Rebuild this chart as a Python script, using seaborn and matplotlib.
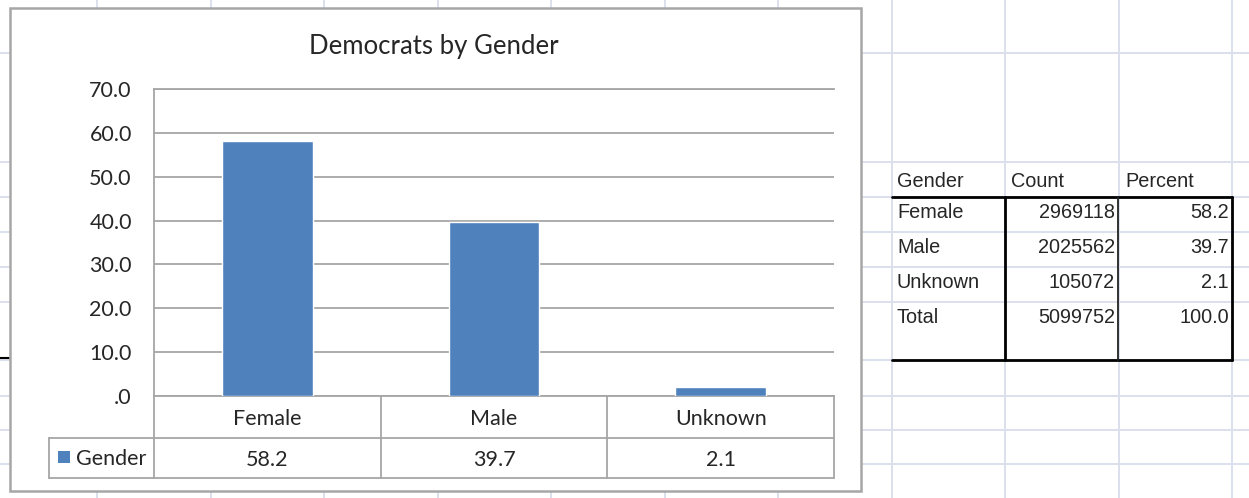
import matplotlib
matplotlib.use('Agg')
import matplotlib.pyplot as plt
import matplotlib.transforms as mtransforms
from matplotlib.patches import Rectangle
import seaborn as sns

# chart data
categories = ['Female', 'Male', 'Unknown']
percent = [58.2, 39.7, 2.1]
series_name = 'Gender'
title = 'Democrats by Gender'
y_ticks = [0, 10, 20, 30, 40, 50, 60, 70]

# worksheet table next to the chart
table_header = ['Gender', 'Count', 'Percent']
table_rows = ['Female', 'Male', 'Unknown', 'Total']
table_counts = [2969118, 2025562, 105072, 5099752]
table_percent = [58.2, 39.7, 2.1, 100.0]

W, H = 1249, 498
BLUE = '#4F81BD'
GRAY = '#A6A6A6'
SHEET = '#DCDFEC'

sns.set_style('white')
plt.rcParams['font.family'] = ['Lato', 'DejaVu Sans']

fig = plt.figure(figsize=(W / 100, H / 100), dpi=100)

# background axes in pixel units (worksheet grid, chart frame, table)
bg = fig.add_axes([0, 0, 1, 1])
bg.set_xlim(0, W)
bg.set_ylim(H, 0)
bg.axis('off')

# worksheet gridlines
for x in [97.5 + 113.5 * k for k in range(11)]:
    bg.plot([x, x], [0, H], color=SHEET, lw=1.4, zorder=1)
for y in [53, 162, 197, 232, 267, 302, 360, 396, 430, 464]:
    bg.plot([0, W], [y, y], color=SHEET, lw=1.4, zorder=1)
bg.plot([0, 9], [358, 358], color='black', lw=1.5, zorder=1)

# chart frame
bg.add_patch(Rectangle((10, 8), 851, 483, facecolor='white',
                       edgecolor=GRAY, lw=1.8, zorder=2))
bg.text(434, 54, title, ha='center', va='baseline', fontsize=18.5, zorder=3)

# plot area
ax = fig.add_axes([154 / W, 1 - 396 / H, (834 - 154) / W, (396 - 89) / H])
ax.set_zorder(5)
ax.patch.set_alpha(0)
sns.barplot(x=categories, y=percent, color=BLUE, saturation=1, width=0.4,
            ax=ax, zorder=3)
ax.set_xlim(-0.5, 2.5)
ax.set_ylim(0, 70)
ax.set_yticks(y_ticks)
ax.set_yticklabels(['.0' if v == 0 else f'{v:.1f}' for v in y_ticks], fontsize=15.5)
ax.tick_params(axis='y', length=0, pad=16)
ax.tick_params(axis='x', length=0, labelbottom=False)
ax.set_xlabel('')
ax.set_ylabel('')
ax.yaxis.grid(True, color=GRAY, lw=1.3)
ax.set_axisbelow(True)
for side in ['left', 'bottom', 'top']:
    ax.spines[side].set_color(GRAY)
    ax.spines[side].set_linewidth(1.3)
ax.spines['right'].set_visible(False)

# data table under the chart (x in category units, y in pixels)
tr = mtransforms.blended_transform_factory(ax.transData, bg.transData)
edges = [i - 0.5 for i in range(len(categories) + 1)]
for e in edges:
    bg.plot([e, e], [396, 478], color=GRAY, lw=1.3, transform=tr, zorder=3)
bg.plot([edges[0], edges[-1]], [438, 438], color=GRAY, lw=1.3, transform=tr, zorder=3)
bg.plot([edges[0], edges[-1]], [478, 478], color=GRAY, lw=1.3, transform=tr, zorder=3)
bg.plot([49, 154], [438, 438], color=GRAY, lw=1.3, zorder=3)
bg.plot([49, 154], [478, 478], color=GRAY, lw=1.3, zorder=3)
bg.plot([49, 49], [438, 478], color=GRAY, lw=1.3, zorder=3)
for i, (cat, val) in enumerate(zip(categories, percent)):
    bg.text(i, 425, cat, ha='center', va='baseline', fontsize=15.5,
            transform=tr, zorder=4)
    bg.text(i, 466, f'{val:.1f}', ha='center', va='baseline', fontsize=15.5,
            transform=tr, zorder=4)
bg.add_patch(Rectangle((58, 451), 12, 12, facecolor=BLUE, edgecolor='none', zorder=4))
bg.text(76, 465, series_name, ha='left', va='baseline', fontsize=15.5, zorder=4)

# worksheet table
sheet_font = ['Liberation Sans', 'DejaVu Sans']
for x, h in zip([897, 1011, 1125], table_header):
    bg.text(x, 187, h, ha='left', va='baseline', fontsize=14.3, family=sheet_font, zorder=4)
for i, (name, cnt, pct) in enumerate(zip(table_rows, table_counts, table_percent)):
    yb = 218 + 35 * i
    bg.text(897, yb, name, ha='left', va='baseline', fontsize=14.3, family=sheet_font, zorder=4)
    bg.text(1115, yb, str(cnt), ha='right', va='baseline', fontsize=14.3, family=sheet_font, zorder=4)
    bg.text(1229, yb, f'{pct:.1f}', ha='right', va='baseline', fontsize=14.3, family=sheet_font, zorder=4)
bg.plot([892, 1232], [197, 197], color='black', lw=2, zorder=4)
bg.plot([892, 1232], [360, 360], color='black', lw=2, zorder=4)
bg.plot([1005, 1005], [197, 360], color='black', lw=2, zorder=4)
bg.plot([1118, 1118], [197, 360], color='#222222', lw=1.3, zorder=4)
bg.plot([1232, 1232], [197, 360], color='black', lw=2, zorder=4)

fig.savefig('out.png', dpi=100)
